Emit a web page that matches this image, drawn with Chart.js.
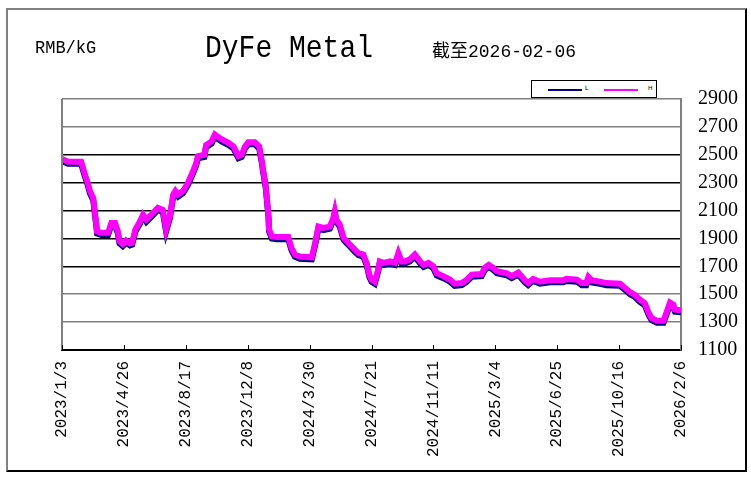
<!DOCTYPE html>
<html>
<head>
<meta charset="utf-8">
<script src="https://cdn.jsdelivr.net/npm/chart.js@4"></script>
<style>
  body { margin: 0; background: #fff; }
  #wrap { position: relative; width: 751px; height: 486px; }
  #frame { position: absolute; left: 6px; top: 8px; width: 737px; height: 460px;
           border-left: 2px solid #808080; border-top: 2px solid #808080;
           border-right: 2px solid #000; border-bottom: 2px solid #000; }
  .txt { position: absolute; color: #000; white-space: nowrap; font-family: "Liberation Mono", "Noto Sans CJK SC", monospace; }
  #unit { left: 35px; top: 38px; font-size: 17px; transform: scaleY(1.1); transform-origin: left top; }
  #title { left: 205px; top: 31px; font-size: 28px; transform: scaleY(1.12); transform-origin: left top; }
  #asof { left: 432px; top: 36px; font-size: 18px; }
  #legend { position: absolute; left: 531px; top: 80px; width: 124px; height: 16px; border: 1px solid #000; background: #fff; }
  .sw { position: absolute; top: 8px; height: 2px; width: 34px; }
  .lt { position: absolute; top: 3px; font-size: 6px; font-family: "DejaVu Sans", sans-serif; }
  canvas { position: absolute; left: 0; top: 0; }
</style>
</head>
<body>
<div id="wrap">
  <div id="frame"></div>
  <canvas id="chartDyFe" width="751" height="486"></canvas>
  <div class="txt" id="unit">RMB/kG</div>
  <div class="txt" id="title">DyFe Metal</div>
  <div class="txt" id="asof">截至2026-02-06</div>
  <div id="legend">
    <div class="sw" style="left:16px; background:#000080;"></div><div class="lt" style="left:53px;">L</div>
    <div class="sw" style="left:72px; background:#ff00ff;"></div><div class="lt" style="left:116px;">H</div>
  </div>
</div>
<script>
// ===== Данные: дни от 2023/1/3, цены (RMB/kG) =====
const tickLabels = ['2023/1/3', '2023/4/26', '2023/8/17', '2023/12/8', '2024/3/30', '2024/7/21',
                    '2024/11/11', '2025/3/4', '2025/6/25', '2025/10/16', '2026/2/6'];

const days = [0, 11, 35, 41, 46, 51, 57, 63, 64, 72, 84, 90, 97, 102, 105, 111, 117, 124, 128, 134,
              142, 148, 154, 163, 175, 184, 190, 197, 203, 207, 212, 221, 230, 239, 245, 248, 260, 263, 273, 279,
              284, 292, 304, 313, 322, 328, 334, 340, 352, 360, 365, 367, 372, 377, 378, 383, 392, 413, 419, 425,
              434, 456, 462, 468, 477, 489, 495, 498, 501, 507, 514, 520, 526, 532, 541, 550, 556, 561, 565, 571,
              577, 580, 587, 599, 608, 614, 620, 626, 635, 644, 654, 660, 669, 678, 684, 696, 708, 717, 730, 739,
              748, 766, 772, 779, 787, 794, 812, 821, 833, 845, 851, 860, 873, 891, 915, 921, 940, 949, 957, 961,
              967, 982, 994, 1019, 1028, 1037, 1046, 1055, 1064, 1070, 1076, 1086, 1098, 1104, 1110, 1116, 1119, 1130];

const highPrices = [2470, 2450, 2450, 2370, 2310, 2240, 2190, 1990, 1950, 1940, 1940, 2010, 2010, 1950, 1880, 1860, 1885, 1865, 1870, 1965,
                    2020, 2070, 2035, 2070, 2120, 2105, 1965, 2060, 2215, 2240, 2215, 2240, 2300, 2380, 2440, 2490, 2500, 2570, 2595, 2645,
                    2630, 2610, 2585, 2560, 2490, 2500, 2560, 2590, 2590, 2560, 2450, 2395, 2275, 2060, 1965, 1915, 1910, 1910, 1830, 1785,
                    1770, 1765, 1865, 1985, 1975, 1985, 2045, 2095, 2035, 2000, 1905, 1880, 1855, 1830, 1795, 1785, 1725, 1640, 1605, 1590,
                    1675, 1735, 1725, 1735, 1725, 1795, 1735, 1735, 1750, 1785, 1735, 1710, 1725, 1700, 1650, 1630, 1605, 1575, 1580, 1605,
                    1640, 1645, 1690, 1710, 1690, 1665, 1650, 1630, 1655, 1600, 1580, 1610, 1590, 1600, 1600, 1610, 1605, 1580, 1580, 1625,
                    1600, 1590, 1580, 1575, 1545, 1515, 1495, 1460, 1435, 1375, 1330, 1310, 1310, 1375, 1440, 1425, 1390, 1385];

const lowPrices = [2455, 2435, 2435, 2355, 2295, 2225, 2175, 1975, 1935, 1925, 1925, 1995, 1995, 1935, 1865, 1845, 1870, 1850, 1855, 1950,
                   2005, 2055, 2020, 2055, 2105, 2090, 1950, 2045, 2200, 2225, 2200, 2225, 2285, 2365, 2425, 2475, 2485, 2555, 2580, 2630,
                   2615, 2595, 2570, 2545, 2475, 2485, 2545, 2575, 2575, 2545, 2435, 2380, 2260, 2045, 1950, 1900, 1895, 1895, 1815, 1770,
                   1755, 1750, 1850, 1970, 1960, 1970, 2030, 2080, 2020, 1985, 1890, 1865, 1840, 1815, 1780, 1770, 1710, 1625, 1590, 1575,
                   1660, 1720, 1710, 1720, 1710, 1780, 1720, 1720, 1735, 1770, 1720, 1695, 1710, 1685, 1635, 1615, 1590, 1560, 1565, 1590,
                   1625, 1630, 1675, 1695, 1675, 1650, 1635, 1615, 1640, 1585, 1565, 1595, 1575, 1585, 1585, 1595, 1590, 1565, 1565, 1610,
                   1585, 1575, 1565, 1560, 1530, 1500, 1480, 1445, 1420, 1360, 1315, 1295, 1295, 1360, 1425, 1410, 1375, 1370];

const DAY_MAX = 1130;
const DAY_STEP = 113;

// Линии сетки: часть серые, часть чёрные (как в оригинале)
const grayLevels = [2900, 2700, 1500, 1300];

// Внутренние риски на оси X + левая граница области графика
const frameTicks = {
    id: 'frameTicks',
    afterDatasetsDraw(chart) {
        const ctx = chart.ctx;
        const area = chart.chartArea;
        const xs = chart.scales.x;
        ctx.save();
        ctx.strokeStyle = '#808080';
        ctx.lineWidth = 2;
        ctx.beginPath();
        ctx.moveTo(area.left, area.top);
        ctx.lineTo(area.left, area.bottom);
        ctx.stroke();
        ctx.strokeStyle = '#000';
        ctx.lineWidth = 1;
        xs.ticks.forEach(t => {
            const px = Math.round(xs.getPixelForValue(t.value)) + 0.5;
            ctx.beginPath();
            ctx.moveTo(px, area.bottom);
            ctx.lineTo(px, area.bottom - 5);
            ctx.stroke();
        });
        ctx.restore();
    }
};

function toPoints(vals) {
    return vals.map((v, i) => ({ x: days[i], y: v }));
}

const ctx = document.getElementById('chartDyFe').getContext('2d');
const dyfeChart = new Chart(ctx, {
    type: 'line',
    data: {
        datasets: [
            {
                label: 'L',
                data: toPoints(lowPrices),
                borderColor: '#000080',
                borderWidth: 6,
                pointRadius: 0,
                tension: 0,
                order: 1
            },
            {
                label: 'H',
                data: toPoints(highPrices),
                borderColor: '#ff00ff',
                borderWidth: 6,
                pointRadius: 0,
                tension: 0,
                order: 0
            }
        ]
    },
    options: {
        responsive: false,
        animation: false,
        layout: { padding: { left: 62, top: 99, right: 6, bottom: 8 } },
        plugins: {
            legend: { display: false },
            tooltip: { enabled: false }
        },
        scales: {
            x: {
                type: 'linear',
                min: 0,
                max: DAY_MAX,
                afterFit: s => { s.height = 128; },
                grid: { display: false },
                border: { color: '#000', width: 2 },
                ticks: {
                    stepSize: DAY_STEP,
                    autoSkip: false,
                    maxRotation: 90,
                    minRotation: 90,
                    padding: 3,
                    color: '#000',
                    font: { family: 'Liberation Mono', size: 16 },
                    callback: v => tickLabels[Math.round(v / DAY_STEP)]
                }
            },
            y: {
                position: 'right',
                min: 1100,
                max: 2900,
                afterFit: s => { s.width = 64; },
                border: { color: '#808080', width: 2 },
                grid: {
                    drawTicks: false,
                    lineWidth: 1.5,
                    color: c => grayLevels.includes(c.tick.value) ? '#808080' : '#000'
                },
                ticks: {
                    stepSize: 200,
                    padding: 17,
                    color: '#000',
                    font: { family: 'Liberation Serif', size: 20 },
                    callback: v => String(v)
                }
            }
        }
    },
    plugins: [frameTicks]
});
</script>
</body>
</html>
